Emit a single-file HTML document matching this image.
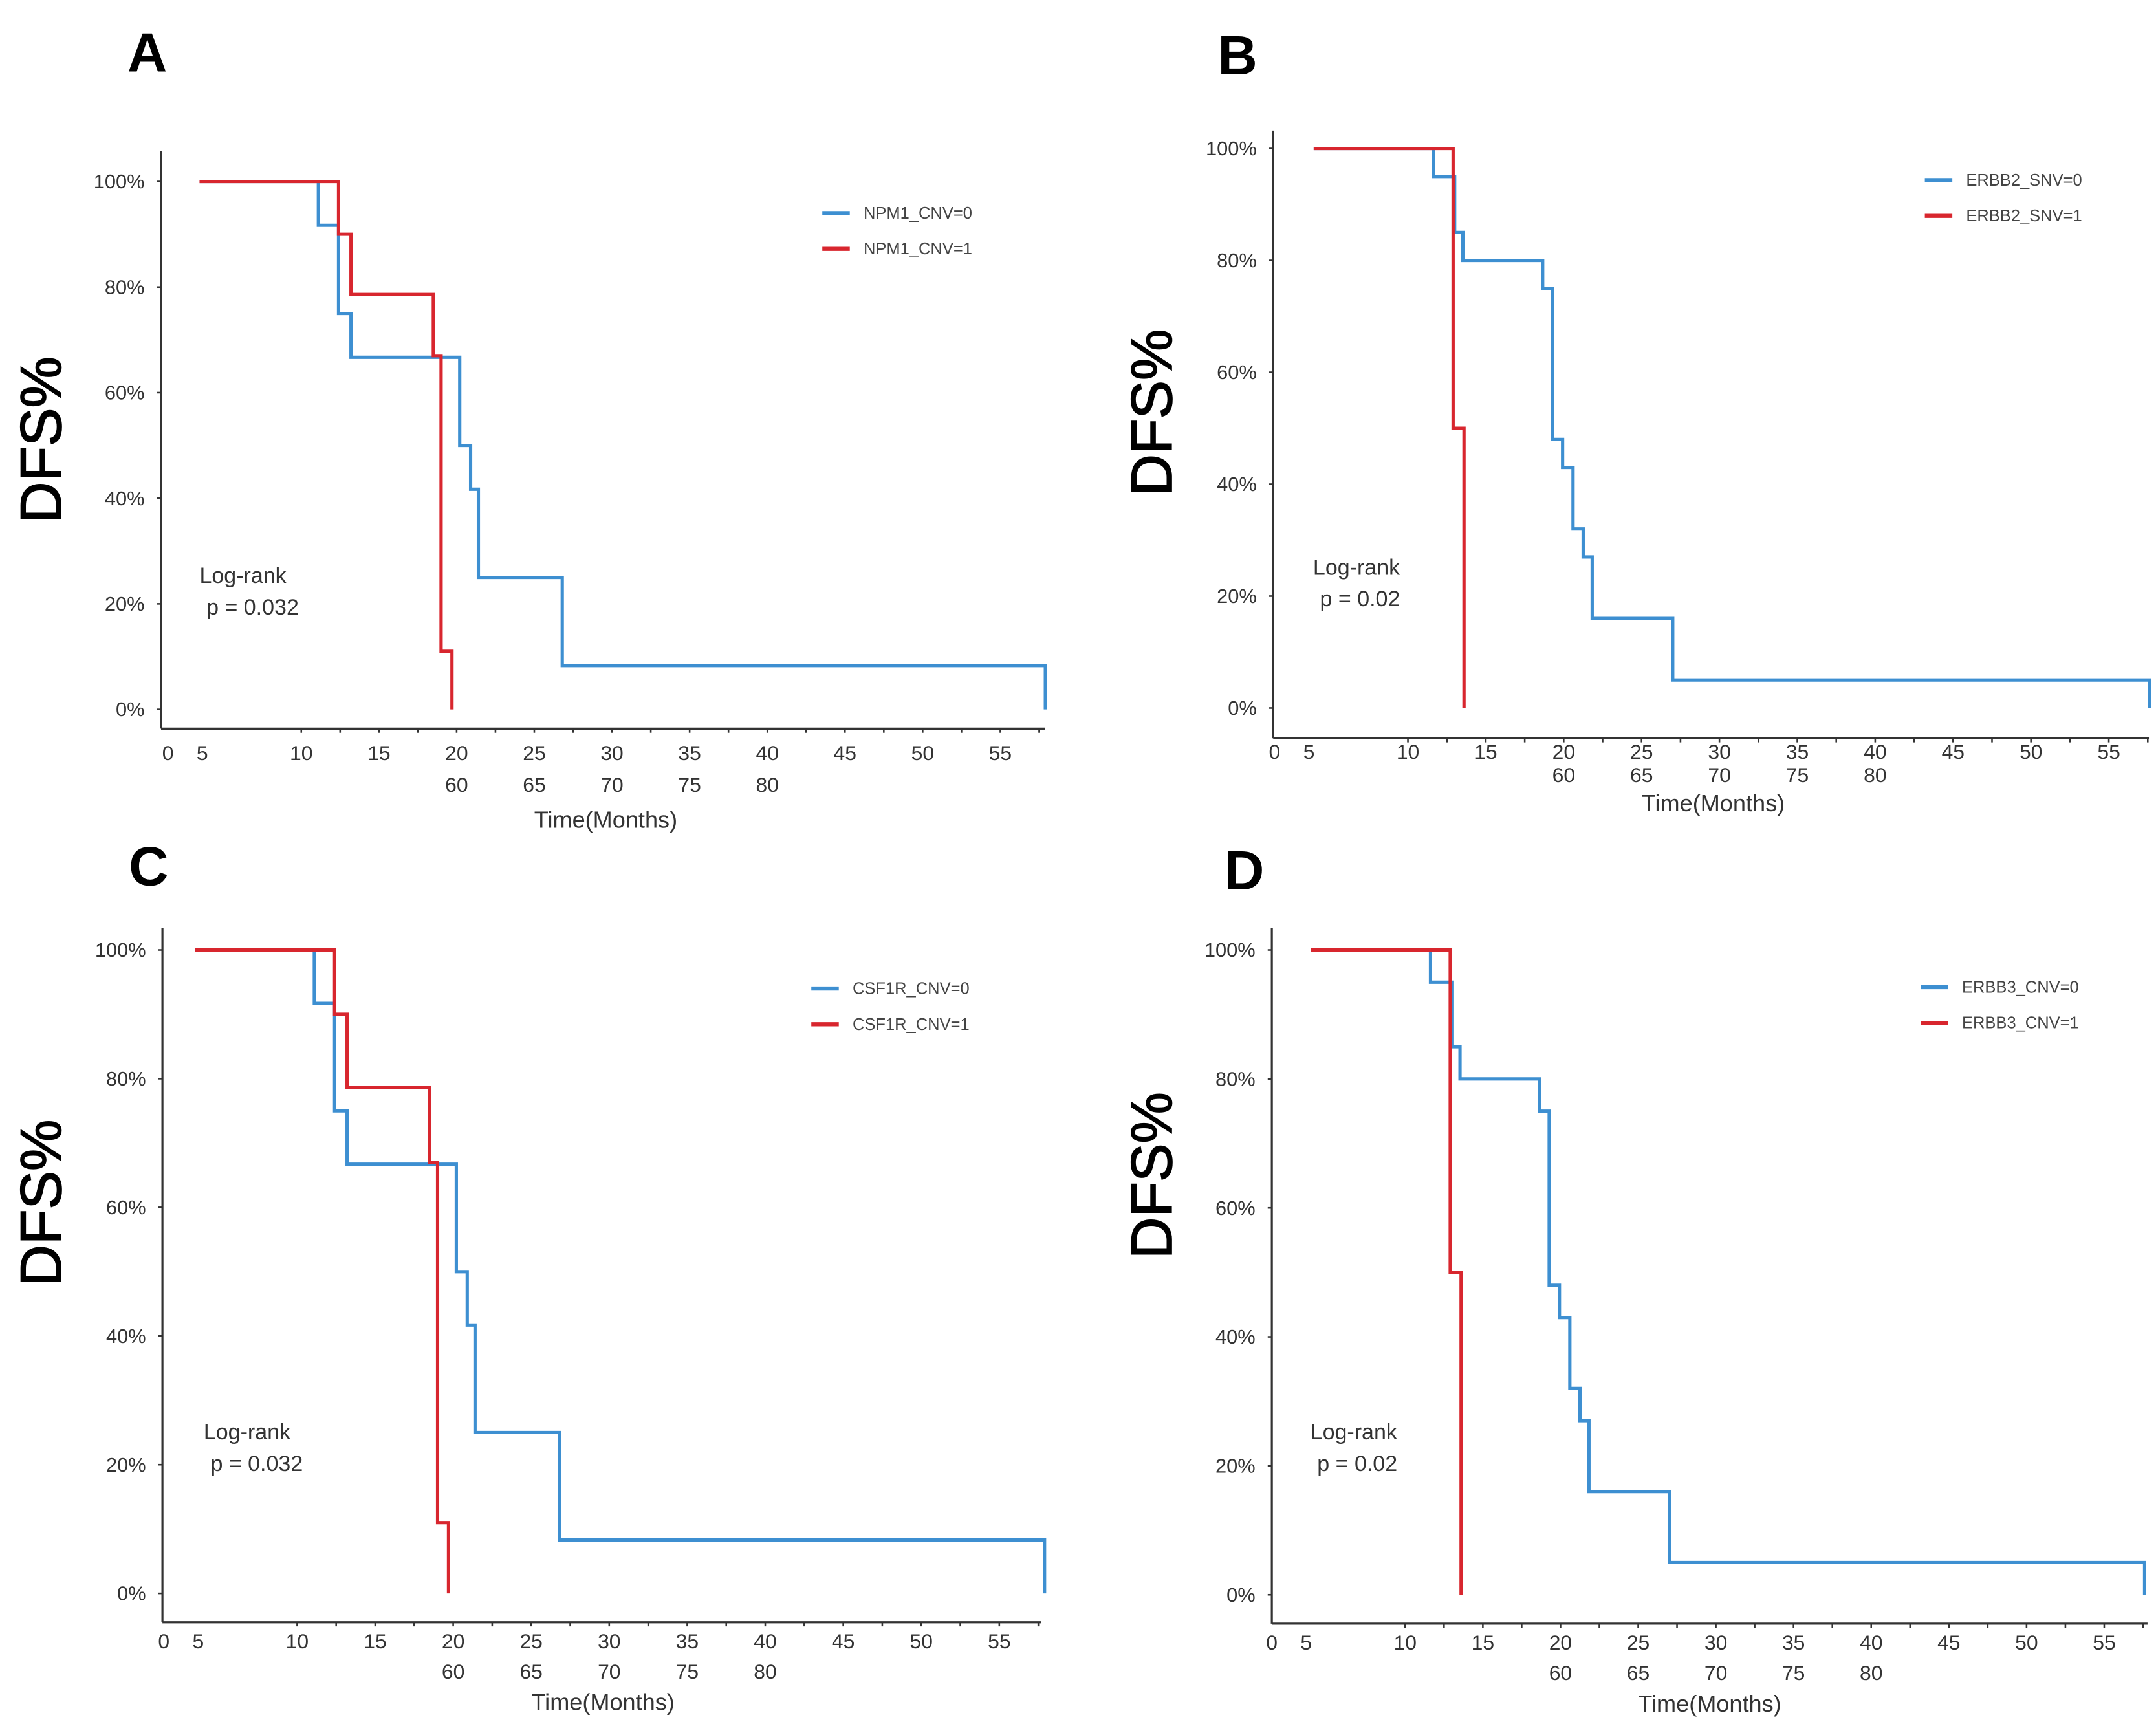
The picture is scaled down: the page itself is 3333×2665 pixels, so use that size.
<!DOCTYPE html>
<html><head><meta charset="utf-8"><style>
html,body{margin:0;padding:0;background:#fff;}
svg{display:block;}
text{font-family:"Liberation Sans",Arial,sans-serif;}
</style></head><body>
<svg id="fig" width="3333" height="2665" viewBox="0 0 1568 1254" xmlns="http://www.w3.org/2000/svg"></svg>
<script>
// Kaplan-Meier data (time in months, survival in %)
const blueTimesAC = [3.45, 11.1, 12.4, 13.2, 20.2, 20.9, 21.4, 26.8, 57.9];
const blueSurvAC  = [100, 91.7, 75, 66.7, 50, 41.7, 25, 8.3, 0];
const redTimesAC  = [3.45, 12.4, 13.2, 18.5, 19.0, 19.7];
const redSurvAC   = [100, 90, 78.6, 67, 11, 0];
const blueTimesBD = [3.95, 11.63, 13.0, 13.53, 18.65, 19.27, 19.93, 20.6, 21.25, 21.83, 27.0, 57.6];
const blueSurvBD  = [100, 95, 85, 80, 75, 48, 43, 32, 27, 16, 5, 0];
const redTimesBD  = [3.95, 12.9, 13.6];
const redSurvBD   = [100, 50, 0];
const yTickValues = [100, 80, 60, 40, 20, 0];
const yTickLabels = ["100%", "80%", "60%", "40%", "20%", "0%"];
const xTickMonths = [10, 15, 20, 25, 30, 35, 40, 45, 50, 55];
const xTickLabels = ["10", "15", "20", "25", "30", "35", "40", "45", "50", "55"];
const xRow2Months = [20, 25, 30, 35, 40];
const xRow2Labels = ["60", "65", "70", "75", "80"];

const panels = [
 {id:"a", letter:"A", lx:107, ly:52, ax:117, top:110, xay:530, right:760, y100:132, y0:516, x10:219, ppm:11.3, lab:553, row2:576, tY:602,
  dfsX:44, dfsY:320, leg:{x:598,y:155}, names:["NPM1_CNV=0","NPM1_CNV=1"], lr:{x:145,y:424}, p:"p = 0.032",
  bt:blueTimesAC, bs:blueSurvAC, rt:redTimesAC, rs:redSurvAC},
 {id:"b", letter:"B", lx:900, ly:54, ax:926, top:95, xay:537, right:1563, y100:108, y0:515, x10:1024, ppm:11.33, lab:552, row2:569, tY:590,
  dfsX:852, dfsY:300, leg:{x:1400,y:131}, names:["ERBB2_SNV=0","ERBB2_SNV=1"], lr:{x:955,y:418}, p:"p = 0.02",
  bt:blueTimesBD, bs:blueSurvBD, rt:redTimesBD, rs:redSurvBD},
 {id:"c", letter:"C", lx:108, ly:644, ax:118, top:675, xay:1180, right:757, y100:691, y0:1159, x10:216, ppm:11.35, lab:1199, row2:1221, tY:1244,
  dfsX:44, dfsY:875, leg:{x:590,y:719}, names:["CSF1R_CNV=0","CSF1R_CNV=1"], lr:{x:148,y:1047}, p:"p = 0.032",
  bt:blueTimesAC, bs:blueSurvAC, rt:redTimesAC, rs:redSurvAC},
 {id:"d", letter:"D", lx:905, ly:647, ax:925, top:675, xay:1181, right:1562, y100:691, y0:1160, x10:1022, ppm:11.3, lab:1200, row2:1222, tY:1245,
  dfsX:852, dfsY:855, leg:{x:1397,y:718}, names:["ERBB3_CNV=0","ERBB3_CNV=1"], lr:{x:953,y:1047}, p:"p = 0.02",
  bt:blueTimesBD, bs:blueSurvBD, rt:redTimesBD, rs:redSurvBD}
];
const NS="http://www.w3.org/2000/svg";
const svg=document.getElementById('fig');
function mk(tag,attrs,parent,txt){const e=document.createElementNS(NS,tag);for(const k in attrs)e.setAttribute(k,attrs[k]);if(txt!==undefined)e.textContent=txt;parent.appendChild(e);return e;}
const BLUE="#3d8fd1", RED="#d8262e";
panels.forEach(P=>{
  const g=mk('g',{},svg);
  
  
  const X=t=>P.x10+(t-10)*P.ppm;
  const Y=v=>P.y0+(P.y100-P.y0)*v/100;
  const L=mk('text',{x:P.lx,y:P.ly,'font-size':40,'font-weight':'bold','text-anchor':'middle',fill:'#000'},g,P.letter);
  
  
  const d=mk('text',{x:P.dfsX,y:P.dfsY,'font-size':42,'text-anchor':'middle',fill:'#000',stroke:'#000','stroke-width':0.8,transform:`rotate(-90 ${P.dfsX} ${P.dfsY})`},g,'DFS%');
  
  
  const ya=mk('line',{x1:P.ax,y1:P.top,x2:P.ax,y2:P.xay,stroke:'#333','stroke-width':1.5},g);
  
  
  const xa=mk('line',{x1:P.ax,y1:P.xay,x2:P.right,y2:P.xay,stroke:'#333','stroke-width':1.5},g);
  
  
  yTickValues.forEach((v,i)=>{
    mk('line',{x1:P.ax-3,y1:Y(v),x2:P.ax,y2:Y(v),stroke:'#333','stroke-width':1.2},g);
    const t=mk('text',{x:P.ax-12,y:Y(v)+5,'font-size':14.5,'text-anchor':'end',fill:'#333'},g,yTickLabels[i]);
    
    
  });
  const extra=[["0",X(10)-97],["5",X(10)-72]];
  extra.forEach(e=>{
    const t=mk('text',{x:e[1],y:P.lab,'font-size':15,'text-anchor':'middle',fill:'#333'},g,e[0]);
    
    
  });
  xTickMonths.forEach((m,i)=>{
    mk('line',{x1:X(m),y1:P.xay,x2:X(m),y2:P.xay+3,stroke:'#333','stroke-width':1.2},g);
    mk('line',{x1:X(m)+P.ppm*2.5,y1:P.xay,x2:X(m)+P.ppm*2.5,y2:P.xay+3,stroke:'#333','stroke-width':1.2},g);
    const t=mk('text',{x:X(m),y:P.lab,'font-size':15,'text-anchor':'middle',fill:'#333'},g,xTickLabels[i]);
    
    
  });
  xRow2Months.forEach((m,i)=>{
    const t=mk('text',{x:X(m),y:P.row2,'font-size':15,'text-anchor':'middle',fill:'#333'},g,xRow2Labels[i]);
    
    
  });
  const tt=mk('text',{x:X(29.6),y:P.tY,'font-size':17,'text-anchor':'middle',fill:'#333'},g,'Time(Months)');
  
  
  function step(ts,ss){let dd=`M${X(ts[0])},${Y(ss[0])}`;for(let i=1;i<ts.length;i++){dd+=` H${X(ts[i])} V${Y(ss[i])}`;}return dd;}
  const bl=mk('path',{d:step(P.bt,P.bs),fill:'none',stroke:BLUE,'stroke-width':2.4},g);
  
  
  const rl=mk('path',{d:step(P.rt,P.rs),fill:'none',stroke:RED,'stroke-width':2.4},g);
  
  
  [[BLUE,0],[RED,1]].forEach(([c,i])=>{
    const yy=P.leg.y+i*26;
    const lg=mk('g',{},g);
    
    
    mk('line',{x1:P.leg.x,y1:yy,x2:P.leg.x+20,y2:yy,stroke:c,'stroke-width':3},lg);
    mk('text',{x:P.leg.x+30,y:yy+4,'font-size':12,fill:'#444'},lg,P.names[i]);
  });
  const a=mk('text',{x:P.lr.x,y:P.lr.y,'font-size':16,fill:'#333'},g,'Log-rank');
  
  
  const b=mk('text',{x:P.lr.x+5,y:P.lr.y+23,'font-size':16,fill:'#333'},g,P.p);
  
  
});
</script>
</body></html>
